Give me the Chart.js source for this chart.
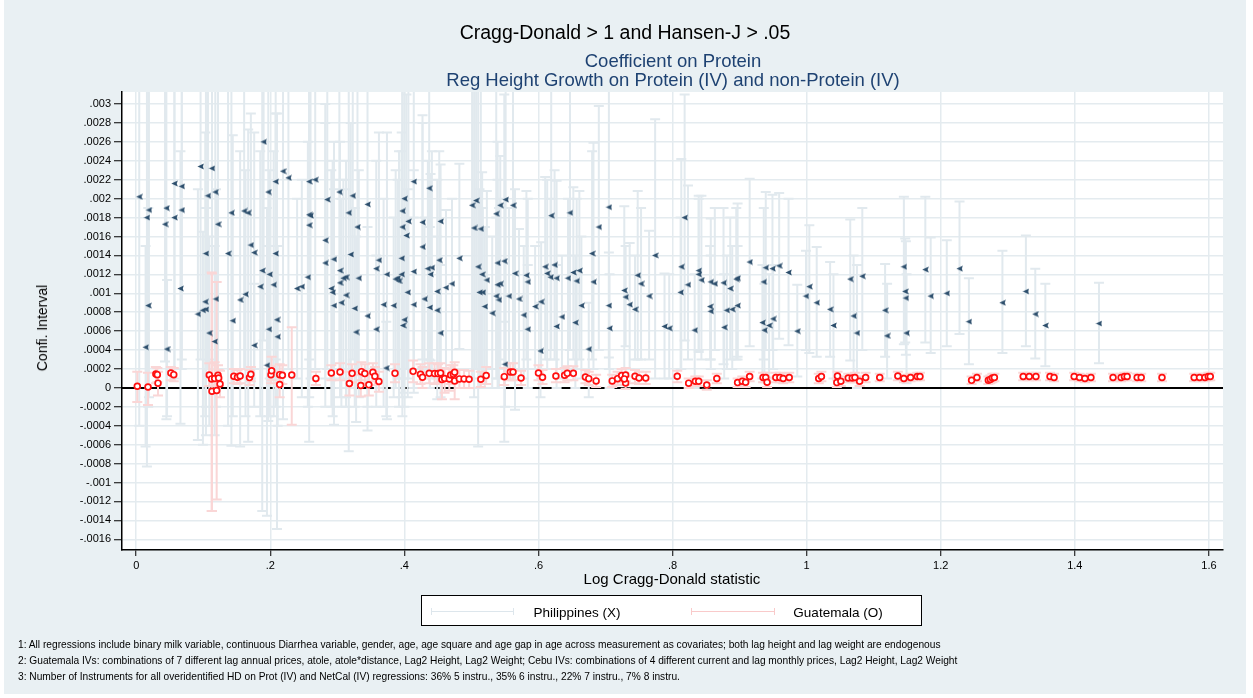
<!DOCTYPE html>
<html>
<head>
<meta charset="utf-8">
<script src="https://cdn.jsdelivr.net/npm/chart.js@4.4.1/dist/chart.umd.min.js"></script>
<style>
  html, body { margin: 0; padding: 0; background: #fff; }
  body { width: 1253px; height: 698px; position: relative; overflow: hidden; font-family: "Liberation Sans", Arial, sans-serif; }
  #bg { position: absolute; left: 4px; top: 0; width: 1242px; height: 694px; background: #e9f0f3; }
  #chart { position: absolute; left: 0; top: 0; }
  .t { position: absolute; white-space: nowrap; transform: translate(-50%, -50%); }
  .note { position: absolute; left: 18px; white-space: nowrap; font-size: 10.2px; transform: translateY(-50%); }
  #legend { position: absolute; left: 421px; top: 595px; width: 499px; height: 29px; background: #fff; border: 1.5px solid #000; }
  .smp { position: absolute; top: 15px; height: 0; border-top: 1.5px solid; }
  .cap { position: absolute; top: 12px; width: 0; height: 7px; border-left: 1.5px solid; }
  .lt { position: absolute; top: 16px; font-size: 13.5px; transform: translate(-50%, -50%); white-space: nowrap; }
</style>
</head>
<body>
<div id="bg"></div>
<canvas id="chart" width="1253" height="698"></canvas>

<div class="t" style="left:625px; top:32px; font-size:19.5px; color:#000;">Cragg-Donald &gt; 1 and Hansen-J &gt; .05</div>
<div class="t" style="left:673px; top:61px; font-size:18.5px; color:#1e4272;">Coefficient on Protein</div>
<div class="t" style="left:673px; top:80px; font-size:18.5px; color:#1e4272;">Reg Height Growth on Protein (IV) and non-Protein (IV)</div>
<div class="t" style="left:42px; top:328px; font-size:14px; color:#000; transform:translate(-50%,-50%) rotate(-90deg);">Confi. Interval</div>
<div class="t" style="left:672px; top:578px; font-size:15px;">Log Cragg-Donald statistic</div>

<div id="legend">
  <div class="smp" style="left:9px; width:83px; border-color:#dde6ec;"></div>
  <div class="cap" style="left:9px; border-color:#dde6ec;"></div>
  <div class="cap" style="left:91px; border-color:#dde6ec;"></div>
  <div class="lt" style="left:155px;">Philippines (X)</div>
  <div class="smp" style="left:269px; width:84px; border-color:#f9caca;"></div>
  <div class="cap" style="left:269px; border-color:#f9caca;"></div>
  <div class="cap" style="left:352px; border-color:#f9caca;"></div>
  <div class="lt" style="left:416px;">Guatemala (O)</div>
</div>

<div class="note" style="top:644px;">1: All regressions include binary milk variable, continuous Diarrhea variable, gender, age, age square and age gap in age across measurement as covariates; both lag height and lag weight are endogenous</div>
<div class="note" style="top:660px;">2: Guatemala IVs: combinations of 7 different lag annual prices, atole, atole*distance, Lag2 Height, Lag2 Weight; Cebu IVs: combinations of 4 different current and lag monthly prices, Lag2 Height, Lag2 Weight</div>
<div class="note" style="top:676px;">3: Number of Instruments for all overidentified HD on Prot (IV) and NetCal (IV) regressions: 36% 5 instru., 35% 6 instru., 22% 7 instru., 7% 8 instru.</div>

<script>
// axis ticks
const xTicks = [0, 0.2, 0.4, 0.6, 0.8, 1, 1.2, 1.4, 1.6];
const xTickLabels = ['0', '.2', '.4', '.6', '.8', '1', '1.2', '1.4', '1.6'];
const yTicks = [-0.0016, -0.0014, -0.0012, -0.001, -0.0008, -0.0006, -0.0004, -0.0002, 0,
    0.0002, 0.0004, 0.0006, 0.0008, 0.001, 0.0012, 0.0014, 0.0016, 0.0018, 0.002,
    0.0022, 0.0024, 0.0026, 0.0028, 0.003];
const yTickLabels = ['-.0016', '-.0014', '-.0012', '-.001', '-.0008', '-.0006', '-.0004', '-.0002', '0',
    '.0002', '.0004', '.0006', '.0008', '.001', '.0012', '.0014', '.0016', '.0018', '.002',
    '.0022', '.0024', '.0026', '.0028', '.003'];

// Philippines (X): log Cragg-Donald, coefficient, lower and upper bound
const philX = [0.0045, 0.014, 0.016, 0.019, 0.018, 0.043, 0.045, 0.046, 0.057, 0.057,
    0.066, 0.068, 0.068, 0.092, 0.096, 0.0995, 0.103, 0.104, 0.104, 0.107,
    0.109, 0.113, 0.118, 0.117, 0.119, 0.122, 0.137, 0.142, 0.144, 0.155,
    0.161, 0.167, 0.163, 0.171, 0.176, 0.176, 0.185, 0.188, 0.19, 0.195,
    0.197, 0.199, 0.198, 0.205, 0.208, 0.208, 0.21, 0.211, 0.219, 0.227,
    0.24, 0.247, 0.258, 0.267, 0.258, 0.26, 0.258, 0.256, 0.282, 0.282,
    0.285, 0.291, 0.293, 0.295, 0.295, 0.303, 0.304, 0.304, 0.306, 0.309,
    0.313, 0.313, 0.317, 0.32, 0.323, 0.326, 0.328, 0.33, 0.332, 0.345,
    0.345, 0.358, 0.358, 0.362, 0.369, 0.374, 0.373, 0.384, 0.387, 0.39,
    0.392, 0.396, 0.396, 0.397, 0.397, 0.398, 0.4, 0.4, 0.403, 0.405,
    0.406, 0.414, 0.414, 0.414, 0.427, 0.427, 0.43, 0.435, 0.437, 0.438,
    0.439, 0.441, 0.449, 0.449, 0.452, 0.454, 0.454, 0.462, 0.471, 0.482,
    0.501, 0.507, 0.504, 0.514, 0.51, 0.516, 0.523, 0.512, 0.517, 0.52,
    0.531, 0.537, 0.543, 0.551, 0.562, 0.539, 0.549, 0.539, 0.543, 0.537,
    0.541, 0.556, 0.55, 0.565, 0.571, 0.578, 0.582, 0.584, 0.584, 0.595,
    0.603, 0.604, 0.61, 0.613, 0.618, 0.624, 0.627, 0.619, 0.627, 0.635,
    0.644, 0.647, 0.652, 0.657, 0.661, 0.664, 0.655, 0.675, 0.68, 0.682,
    0.69, 0.705, 0.705, 0.706, 0.728, 0.73, 0.736, 0.744, 0.748, 0.753,
    0.765, 0.774, 0.788, 0.795, 0.812, 0.813, 0.818, 0.823, 0.833, 0.839,
    0.839, 0.843, 0.857, 0.863, 0.856, 0.857, 0.876, 0.877, 0.881, 0.886,
    0.889, 0.895, 0.897, 0.897, 0.915, 0.934, 0.937, 0.936, 0.939, 0.944,
    0.949, 0.95, 0.959, 0.973, 0.986, 0.999, 1.004, 1.015, 1.035, 1.04,
    1.065, 1.07, 1.075, 1.083, 1.117, 1.12, 1.145, 1.147, 1.148, 1.149,
    1.177, 1.185, 1.209, 1.228, 1.242, 1.292, 1.327, 1.341, 1.356, 1.436];
const philY = [0.00202, 0.00043, 0.0018, 0.00188, 0.00087, 0.00173, 0.0019, 0.00041, 0.0018, 0.00216,
    0.00105, 0.00213, 0.00188, 0.00078, 0.00234, 0.00082, 0.00091, 0.00083, 0.00142, 0.00203,
    0.00058, 0.00232, 0.00207, 0.00049, 0.00094, 0.00173, 0.00142, 0.00185, 0.00071, 0.00093,
    0.00187, 0.00185, 0.00099, 0.00151, 0.00143, 0.00045, 0.00107, 0.00124, 0.0026, 0.00024,
    0.00207, 0.0012, 0.00062, 0.00109, 0.00218, 0.00142, 0.00072, 0.00054, 0.00229, 0.00222,
    0.00105, 0.00107, 0.00218, 0.0022, 0.00183, 0.00182, 0.00172, 0.00117, 0.00156, 0.00132,
    0.00199, 0.00105, 0.00101, 0.00087, 0.00136, 0.00207, 0.00124, 0.00111, 0.0009, 0.00116,
    0.00117, 0.00098, 0.00185, 0.00141, 0.00203, 0.00084, 0.00059, 0.0017, 0.00116, 0.00194,
    0.00076, 0.00126, 0.00062, 0.00135, 0.00088, 0.0012, 0.00021, 0.00087, 0.00115, 0.00116,
    0.00113, 0.00137, 0.0012, 0.0017, 0.00187, 0.00066, 0.00072, 0.002, 0.00161, 0.00101,
    0.00176, 0.00218, 0.00123, 0.00088, 0.00175, 0.00149, 0.00094, 0.00126, 0.00211, 0.00085,
    0.0012, 0.00127, 0.00102, 0.00082, 0.00135, 0.00176, 0.00058, 0.00106, 0.0011, 0.00137,
    0.00193, 0.00198, 0.00169, 0.00168, 0.00128, 0.0012, 0.00114, 0.00101, 0.00101, 0.00086,
    0.00079, 0.00184, 0.00193, 0.00199, 0.00193, 0.00132, 0.00134, 0.00109, 0.0011, 0.00097,
    0.00093, 0.00097, 0.00025, 0.00121, 0.00094, 0.00077, 0.00119, 0.00112, 0.00062, 0.00086,
    0.00039, 0.00091, 0.00128, 0.00121, 0.00117, 0.0013, 0.00116, 0.00182, 0.00065, 0.00075,
    0.00116, 0.00185, 0.00122, 0.00113, 0.00124, 0.00087, 0.00069, 0.00041, 0.00142, 0.00112,
    0.0017, 0.00191, 0.00087, 0.00063, 0.00103, 0.00096, 0.00088, 0.00083, 0.00119, 0.0011,
    0.00097, 0.0014, 0.00065, 0.00063, 0.00101, 0.00128, 0.0018, 0.00109, 0.00061, 0.00124,
    0.0012, 0.00114, 0.00112, 0.0011, 0.00086, 0.00081, 0.00111, 0.00064, 0.00082, 0.00105,
    0.00083, 0.00115, 0.00116, 0.00087, 0.00133, 0.00069, 0.00061, 0.00112, 0.00127, 0.00066,
    0.00126, 0.00073, 0.00129, 0.00122, 0.0006, 0.00097, 0.00107, 0.0009, 0.00083, 0.00066,
    0.00115, 0.00076, 0.00058, 0.00118, 0.00082, 0.00055, 0.00128, 0.00102, 0.00095, 0.00058,
    0.00125, 0.00097, 0.001, 0.00126, 0.0007, 0.0009, 0.00102, 0.00078, 0.00066, 0.00068];
const philLo = [-0.0004, -0.00062, -0.00083, -0.0001, -0.0002, 0.00028, -0.00033, -0.0003, 0.0001, 0.0002,
    -0.00038, 0.0002, 0.0003, -0.00055, 0.0003, -0.0006, -0.0003, -0.0002, -0.0005, 0.0002,
    -0.0004, 0.0003, 0.0001, -0.0005, -0.0002, 0.0002, -0.0004, -0.00061, -0.0003, -0.00062,
    0.0002, -0.00057, -0.0003, 0.0001, 0.0002, -0.0002, -0.0003, -0.0013, 0.0005, -0.00135,
    -0.00035, 0.0001, -0.0003, -0.0003, 0.0003, -0.0002, -0.00149, -0.0004, -0.00033, 0.0002,
    0.0001, -0.0001, -0.00057, 0.0002, 0.0003, 0.0001, -0.0001, -0.0002, 0.0001, -0.0002,
    0.0002, -0.0002, -0.0003, -0.00039, 0.0001, 0.0002, -0.0001, 0.0, -0.0002, 0.0001,
    -0.0001, -0.0002, -0.00067, 0.0, 0.0003, -0.0002, -0.00036, 0.0002, -0.0001, -0.00045,
    -0.0002, 0.0001, -0.0002, 0.0, -0.0002, -0.00033, -0.0003, -0.0001, 0.0, 0.0001,
    -0.0002, 0.0001, -0.0001, 0.0002, -0.0003, -0.00005, -0.0002, 0.0001, 0.0002, -0.0001,
    0.0001, -0.00005, 0.0002, 0.0, 0.0003, 0.0002, 0.0001, 0.0002, 0.0003, 0.0,
    0.00029, 0.0001, -0.00012, 0.0001, 0.0002, 0.0002, -0.0001, 0.0002, 0.0002, 0.00041,
    0.0001, 0.0002, -0.0001, 0.0002, -0.00062, 0.0001, 0.0002, 0.0, 0.0001, 0.0,
    0.0, 0.0002, 0.0003, 0.0002, 0.0002, 0.0001, -0.00057, 0.0, 0.0002, 0.0001,
    0.0, 0.0001, -0.0002, -0.00023, 0.0002, 0.0001, 0.0003, 0.0002, 0.0, 0.0002,
    -0.0001, 0.0001, 0.0003, 0.0002, 0.0003, 0.0003, 0.0002, 0.0004, 0.0, 0.0001,
    0.0002, 0.0004, 0.0003, 0.0002, 0.0003, 0.0001, 0.0, -0.0001, 0.0003, 0.0002,
    0.0004, 0.00032, 0.0002, 0.0, 0.0002, 0.00044, 0.0002, 0.0003, 0.0003, 0.0003,
    0.0003, 0.0001, 0.0001, 0.0001, 0.0002, 0.0002, 0.0005, 0.0003, 0.0, 0.00038,
    0.0004, 0.0003, 0.0003, 0.0004, 0.0003, 0.0002, 0.00025, 0.0001, 0.0002, 0.0003,
    0.0002, 0.0003, 0.00033, 0.0003, 0.00044, 0.0001, 0.0001, 0.0003, 0.0004, 0.0001,
    0.0004, 0.0002, 0.00052, 0.00045, 0.00012, 0.0004, 0.00037, 0.00033, 0.00033, 0.0001,
    0.00029, 0.0001, 0.0, 0.0004, 0.00033, 0.0001, 0.00046, 0.00048, 0.00035, 0.00005,
    0.00048, 0.00037, 0.00044, 0.00057, 0.00025, 0.00037, 0.00044, 0.00031, 0.00023, 0.00026];
const philHi = [0.0035, 0.0015, 0.0045, 0.0038, 0.0019, 0.0034, 0.0041, 0.00114, 0.0035, 0.0041,
    0.0025, 0.004, 0.0035, 0.0021, 0.0044, 0.00165, 0.0027, 0.0019, 0.0034, 0.0039,
    0.0016, 0.0043, 0.004, 0.0015, 0.0021, 0.0033, 0.0032, 0.0043, 0.00267, 0.0025,
    0.0037, 0.00273, 0.0023, 0.0029, 0.0027, 0.0011, 0.0025, 0.0038, 0.005, 0.0019,
    0.0045, 0.0023, 0.0015, 0.0025, 0.0042, 0.0029, 0.0029, 0.0015, 0.0048, 0.0042,
    0.002, 0.0022, 0.0049, 0.0042, 0.0034, 0.0036, 0.0035, 0.0026, 0.003, 0.0028,
    0.0038, 0.0023, 0.0024, 0.0021, 0.0026, 0.004, 0.0026, 0.0022, 0.002, 0.0022,
    0.0024, 0.0021, 0.0044, 0.0028, 0.0038, 0.0019, 0.0016, 0.0032, 0.0023, 0.0043,
    0.0017, 0.0024, 0.0014, 0.0027, 0.002, 0.0027, 0.0007, 0.0018, 0.0023, 0.0022,
    0.0025, 0.0027, 0.0025, 0.0033, 0.0042, 0.0014, 0.0016, 0.004, 0.0031, 0.0021,
    0.0035, 0.0045, 0.0023, 0.0018, 0.00288, 0.0028, 0.0018, 0.0024, 0.004, 0.0017,
    0.00226, 0.0025, 0.0022, 0.0016, 0.0025, 0.00236, 0.0013, 0.00188, 0.002, 0.00237,
    0.004, 0.0038, 0.0035, 0.0033, 0.0032, 0.00228, 0.00208, 0.0021, 0.0019, 0.0017,
    0.0016, 0.0034, 0.00245, 0.0037, 0.0036, 0.0026, 0.0031, 0.0022, 0.002, 0.0018,
    0.0019, 0.0019, 0.0007, 0.0021, 0.00168, 0.0015, 0.00208, 0.002, 0.0013, 0.0015,
    0.0009, 0.00154, 0.00223, 0.0022, 0.002, 0.0023, 0.00219, 0.0032, 0.0013, 0.0014,
    0.002, 0.0033, 0.00212, 0.002, 0.00208, 0.0016, 0.0014, 0.0009, 0.0025, 0.00259,
    0.00298, 0.0035, 0.00143, 0.0012, 0.00192, 0.0015, 0.00153, 0.0014, 0.00208, 0.0019,
    0.00166, 0.00284, 0.00121, 0.0012, 0.0018, 0.00242, 0.0031, 0.00214, 0.0012, 0.00203,
    0.002, 0.00203, 0.00179, 0.0019, 0.0015, 0.0014, 0.0019, 0.0012, 0.0014, 0.0018,
    0.0015, 0.0019, 0.00195, 0.0015, 0.00221, 0.0013, 0.0011, 0.0019, 0.00207, 0.0012,
    0.00204, 0.0013, 0.00206, 0.002, 0.00109, 0.00145, 0.00172, 0.00149, 0.00133, 0.0012,
    0.00178, 0.0014, 0.0013, 0.0019, 0.00131, 0.0011, 0.00202, 0.00158, 0.00155, 0.0012,
    0.00202, 0.00159, 0.00156, 0.00197, 0.00116, 0.00145, 0.00161, 0.00126, 0.0011, 0.00111];

// Guatemala (O)
const guatX = [0.0016, 0.0176, 0.0293, 0.0315, 0.0325, 0.0517, 0.056, 0.109, 0.1125, 0.117,
    0.122, 0.113, 0.12, 0.125, 0.123, 0.1456, 0.151, 0.155, 0.169, 0.171,
    0.201, 0.202, 0.214, 0.218, 0.214, 0.232, 0.268, 0.291, 0.304, 0.322,
    0.336, 0.341, 0.353, 0.356, 0.362, 0.318, 0.335, 0.347, 0.386, 0.413,
    0.424, 0.427, 0.437, 0.445, 0.45, 0.454, 0.456, 0.46, 0.467, 0.469,
    0.473, 0.475, 0.475, 0.482, 0.489, 0.4965, 0.514, 0.522, 0.549, 0.558,
    0.562, 0.574, 0.6, 0.606, 0.626, 0.639, 0.643, 0.652, 0.67, 0.675,
    0.686, 0.71, 0.718, 0.724, 0.73, 0.73, 0.728, 0.744, 0.75, 0.76,
    0.807, 0.824, 0.834, 0.839, 0.851, 0.866, 0.897, 0.904, 0.909, 0.915,
    0.935, 0.939, 0.941, 0.954, 0.96, 0.965, 0.974, 1.018, 1.022, 1.046,
    1.045, 1.051, 1.062, 1.068, 1.072, 1.079, 1.088, 1.109, 1.136, 1.145,
    1.155, 1.165, 1.169, 1.246, 1.254, 1.271, 1.274, 1.277, 1.28, 1.323,
    1.332, 1.342, 1.363, 1.369, 1.399, 1.407, 1.415, 1.424, 1.457, 1.469,
    1.474, 1.478, 1.493, 1.499, 1.53, 1.578, 1.586, 1.594, 1.599, 1.602];
const guatY = [0.0000175, 0.00001, 0.000147, 0.00014, 0.00005, 0.000158, 0.00014, 0.000137, 0.000095, 0.0001,
    0.000133, -0.000035, -0.000028, 0.000042, 0.000105, 0.000123, 0.000112, 0.000126, 0.000109, 0.000144,
    0.00014, 0.000182, 0.00014, 0.000133, 0.000035, 0.000137, 0.0001, 0.000158, 0.000168, 0.000154,
    0.000172, 0.000151, 0.000165, 0.000123, 0.000067, 0.000046, 0.000025, 0.000032, 0.000154, 0.000175,
    0.000144, 0.000112, 0.000154, 0.000151, 0.000151, 0.000158, 0.000088, 0.0001, 0.000095, 0.000137,
    0.000144, 0.000165, 0.000074, 0.000095, 0.000095, 0.000091, 0.000091, 0.00013, 0.000119, 0.000168,
    0.000168, 0.000105, 0.000158, 0.000112, 0.000126, 0.000133, 0.000154, 0.000154, 0.000116, 0.000098,
    0.000074, 0.000074, 0.000098, 0.00013, 0.000137, 0.000053, 0.000095, 0.000123, 0.000105, 0.000105,
    0.000123, 0.00005, 0.00007, 0.00007, 0.00003, 0.0001, 0.000056, 0.00007, 0.00006, 0.00012,
    0.00011, 0.00011, 0.00006, 0.00011, 0.00011, 0.0001, 0.00011, 0.0001, 0.00012, 0.000126,
    0.000056, 0.00007, 0.000105, 0.000105, 0.00011, 0.00007, 0.00011, 0.00011, 0.000126, 0.0001,
    0.00011, 0.00012, 0.00012, 0.00008, 0.00011, 0.00008, 0.00009, 0.000105, 0.00011, 0.00012,
    0.00012, 0.00012, 0.00012, 0.00011, 0.00012, 0.00011, 0.0001, 0.00011, 0.00011, 0.00011,
    0.00012, 0.00012, 0.00011, 0.00011, 0.00011, 0.00011, 0.00011, 0.00011, 0.00012, 0.00012];
const guatLo = [-0.00015, -0.00018, 0.00005, 0.00006, -0.00008, 0.00008, 0.00007, 0.00002, -0.0013, -0.00002,
    0.00003, -0.0013, -0.00118, -0.0001, 0.00002, 0.00005, 0.00004, 0.00005, 0.00003, 0.00007,
    0.00005, 0.00008, 0.00005, 0.00004, -0.0001, -0.00039, 0.00003, 0.00008, 0.00008, 0.00006,
    0.00008, 0.00005, 0.00007, 0.00003, -0.00004, -0.00008, -0.00009, -0.00008, 0.00006, 0.00006,
    0.00004, 0.0, 0.00005, 0.00004, 0.00005, 0.00006, -0.00012, -0.00005, -0.00003, 0.00004,
    0.00005, 0.00006, -0.00012, 0.0, 0.0, 0.0, 0.00001, 0.00004, 0.00003, 0.00008,
    0.00008, 0.00003, 0.00008, 0.00004, 0.00006, 0.00006, 0.00008, 0.00008, 0.00005, 0.00003,
    0.00001, 0.00001, 0.00003, 0.00006, 0.00007, -0.00001, 0.00003, 0.00005, 0.00004, 0.00004,
    0.00006, 0.0, 0.00002, 0.00002, -0.00002, 0.00005, 0.00001, 0.00002, 0.00001, 0.00007,
    0.00006, 0.00006, 0.00001, 0.00006, 0.00006, 0.00005, 0.00006, 0.00005, 0.00007, 0.00008,
    0.00001, 0.00002, 0.00006, 0.00006, 0.00006, 0.00002, 0.00006, 0.00007, 0.00008, 0.00006,
    0.00007, 0.00008, 0.00008, 0.00004, 0.00007, 0.00004, 0.00005, 0.00006, 0.00007, 0.00008,
    0.00008, 0.00008, 0.00008, 0.00007, 0.00008, 0.00007, 0.00006, 0.00007, 0.00007, 0.00007,
    0.00008, 0.00008, 0.00007, 0.00007, 0.00007, 0.00007, 0.00007, 0.00007, 0.00008, 0.00008];
const guatHi = [0.00017, 0.00016, 0.00022, 0.00021, 0.00017, 0.00022, 0.00021, 0.00026, 0.00122, 0.00027,
    0.00024, 0.00121, 0.00112, 0.00018, 0.00019, 0.0002, 0.00019, 0.0002, 0.00019, 0.00022,
    0.00023, 0.00033, 0.00025, 0.00024, 0.00017, 0.00064, 0.00017, 0.00024, 0.00026, 0.00025,
    0.00027, 0.00025, 0.00026, 0.00022, 0.00017, 0.00017, 0.00014, 0.00015, 0.00025, 0.00029,
    0.00025, 0.00022, 0.00026, 0.00026, 0.00025, 0.00026, 0.0002, 0.00021, 0.0002, 0.00024,
    0.00024, 0.00027, 0.00019, 0.00019, 0.00019, 0.00018, 0.00017, 0.00022, 0.00021, 0.00026,
    0.00026, 0.00018, 0.00024, 0.00019, 0.0002, 0.00021, 0.00023, 0.00023, 0.00019, 0.00017,
    0.00014, 0.00014, 0.00017, 0.0002, 0.00021, 0.00012, 0.00016, 0.00019, 0.00017, 0.00017,
    0.00018, 0.0001, 0.00012, 0.00012, 0.00008, 0.00015, 0.0001, 0.00012, 0.00011, 0.00017,
    0.00016, 0.00016, 0.00011, 0.00016, 0.00016, 0.00015, 0.00016, 0.00015, 0.00017, 0.00017,
    0.0001, 0.00012, 0.00015, 0.00015, 0.00016, 0.00012, 0.00016, 0.00015, 0.00017, 0.00014,
    0.00015, 0.00016, 0.00016, 0.00012, 0.00015, 0.00012, 0.00013, 0.00015, 0.00015, 0.00016,
    0.00016, 0.00016, 0.00016, 0.00015, 0.00016, 0.00015, 0.00014, 0.00015, 0.00015, 0.00015,
    0.00016, 0.00016, 0.00015, 0.00015, 0.00015, 0.00015, 0.00015, 0.00015, 0.00016, 0.00016];

// small solid "<"-like marker, as Stata draws the Philippines points
function makeArrow() {
    const c = document.createElement('canvas');
    c.width = 7; c.height = 7;
    const g = c.getContext('2d');
    g.fillStyle = '#2b4d6b';
    g.beginPath();
    g.moveTo(6.8, 0.6); g.lineTo(0.4, 3.5); g.lineTo(6.8, 6.4); g.lineTo(5.8, 3.5);
    g.closePath();
    g.fill();
    return c;
}

// white plot region, zero line and the capped intervals
const errorBars = {
    id: 'errorBars',
    beforeDraw(chart) {
        const {ctx, chartArea: a} = chart;
        ctx.save();
        ctx.fillStyle = '#fff';
        ctx.fillRect(a.left, a.top, a.right - a.left, a.bottom - a.top);
        ctx.restore();
    },
    beforeDatasetsDraw(chart) {
        const {ctx, chartArea: a, scales: {x, y}} = chart;
        ctx.save();
        ctx.beginPath();
        ctx.rect(a.left, a.top, a.right - a.left, a.bottom - a.top);
        ctx.clip();
        const y0 = y.getPixelForValue(0);
        ctx.strokeStyle = '#000';
        ctx.lineWidth = 2;
        ctx.beginPath();
        ctx.moveTo(a.left, y0); ctx.lineTo(a.right, y0);
        ctx.stroke();
        chart.data.datasets.forEach(ds => {
            ctx.strokeStyle = ds.barColor;
            ctx.lineWidth = 2;
            ds.data.forEach((p, i) => {
                const px = x.getPixelForValue(p.x);
                const top = y.getPixelForValue(ds.hi[i]);
                const bot = y.getPixelForValue(ds.lo[i]);
                ctx.beginPath();
                ctx.moveTo(px, top); ctx.lineTo(px, bot);
                ctx.moveTo(px - 5, top); ctx.lineTo(px + 5, top);
                ctx.moveTo(px - 5, bot); ctx.lineTo(px + 5, bot);
                ctx.stroke();
            });
        });
        ctx.restore();
    }
};

const data = {
    datasets: [{
        label: 'Philippines (X)',
        data: philX.map((v, i) => ({x: v, y: philY[i]})),
        lo: philLo, hi: philHi, barColor: '#e1e9ee',
        pointStyle: makeArrow(),
        pointRadius: 4
    }, {
        label: 'Guatemala (O)',
        data: guatX.map((v, i) => ({x: v, y: guatY[i]})),
        lo: guatLo, hi: guatHi, barColor: '#fad6d6',
        pointStyle: 'circle',
        pointRadius: 2.9,
        pointBorderWidth: 1.7,
        pointBorderColor: '#ff1010',
        pointBackgroundColor: '#fff'
    }]
};

const config = {
    type: 'scatter',
    data: data,
    options: {
        responsive: false,
        animation: false,
        events: [],
        layout: { padding: { left: 0, top: 92, right: 30, bottom: 0 } },
        plugins: { legend: { display: false }, tooltip: { enabled: false } },
        scales: {
            x: {
                type: 'linear',
                min: -0.0212, max: 1.621,
                afterFit: s => { s.height = 148; },
                afterBuildTicks: s => { s.ticks = xTicks.map(v => ({value: v})); },
                ticks: {
                    autoSkip: false, maxRotation: 0, padding: 3, color: '#000',
                    font: { family: '"Liberation Sans", Arial, sans-serif', size: 11 },
                    callback: (v, i) => xTickLabels[i]
                },
                grid: { color: '#e4ebef', lineWidth: 1.5, tickColor: '#000', tickLength: 6, tickWidth: 1 },
                border: { display: true, color: '#000', width: 1.5 }
            },
            y: {
                type: 'linear',
                min: -0.001713, max: 0.003127,
                afterFit: s => { s.width = 122; },
                afterBuildTicks: s => { s.ticks = yTicks.map(v => ({value: v})); },
                ticks: {
                    autoSkip: false, padding: 3, color: '#000',
                    font: { family: '"Liberation Sans", Arial, sans-serif', size: 11 },
                    callback: (v, i) => yTickLabels[i]
                },
                grid: { color: '#e4ebef', lineWidth: 1.5, tickColor: '#000', tickLength: 8, tickWidth: 1 },
                border: { display: true, color: '#000', width: 1.5 }
            }
        }
    },
    plugins: [errorBars]
};

const myChart = new Chart(document.getElementById('chart'), config);
</script>
</body>
</html>
